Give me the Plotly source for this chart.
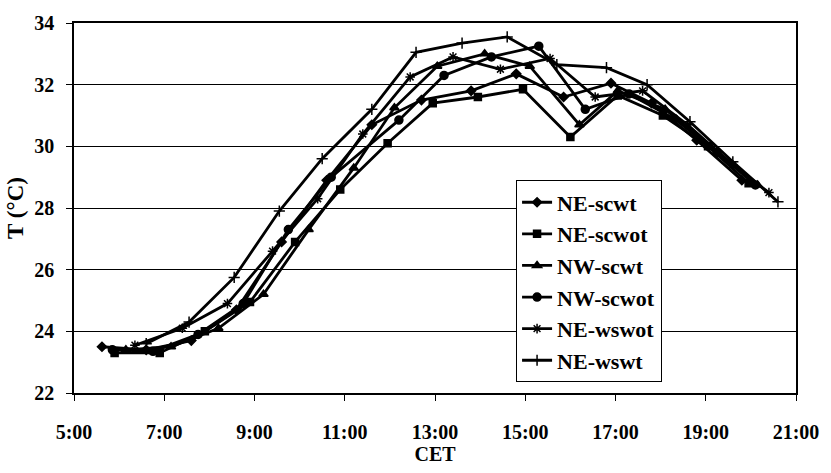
import plotly.graph_objects as go

# Times in decimal hours (CET), temperatures in °C
ne_scwt_t = [5.62, 6.6, 7.6, 8.6, 9.6, 10.6, 11.6, 12.7, 13.8, 14.8, 15.85, 16.9, 17.8, 18.8, 19.8]
ne_scwt_v = [23.5, 23.4, 23.7, 24.7, 26.9, 28.9, 30.7, 31.5, 31.8, 32.35, 31.6, 32.05, 31.4, 30.2, 28.9]

ne_scwot_t = [5.9, 6.9, 7.9, 8.9, 9.9, 10.9, 11.95, 12.95, 13.95, 14.95, 16.0, 17.05, 18.05, 19.05, 19.95]
ne_scwot_v = [23.3, 23.3, 24.0, 24.95, 26.9, 28.6, 30.1, 31.4, 31.6, 31.85, 30.3, 31.65, 31.0, 30.0, 28.8]

nw_scwt_t = [6.15, 7.15, 8.2, 9.2, 10.2, 11.2, 12.1, 13.05, 14.1, 15.1, 16.2, 17.05, 18.1, 19.1, 20.15]
nw_scwt_v = [23.4, 23.5, 24.1, 25.2, 27.3, 29.3, 31.25, 32.6, 33.0, 32.6, 30.7, 31.8, 31.2, 30.0, 28.75]

nw_scwot_t = [5.85, 6.75, 7.75, 8.75, 9.75, 10.7, 12.2, 13.2, 14.25, 15.3, 16.33, 17.3, 18.3, 19.25, 20.1]
nw_scwot_v = [23.4, 23.35, 23.9, 24.9, 27.3, 29.0, 30.85, 32.3, 32.9, 33.25, 31.2, 31.7, 30.9, 29.8, 28.75]

ne_wswot_t = [6.35, 7.4, 8.4, 9.4, 10.4, 11.4, 12.45, 13.4, 14.45, 15.55, 16.55, 17.6, 18.6, 19.6, 20.4]
ne_wswot_v = [23.55, 24.1, 24.9, 26.6, 28.3, 30.4, 32.25, 32.9, 32.5, 32.85, 31.6, 31.8, 30.7, 29.4, 28.5]

ne_wswt_t = [6.6, 7.55, 8.55, 9.55, 10.5, 11.6, 12.58, 13.6, 14.6, 15.7, 16.8, 17.7, 18.65, 19.6, 20.6]
ne_wswt_v = [23.6, 24.3, 25.75, 27.9, 29.6, 31.2, 33.05, 33.35, 33.55, 32.65, 32.55, 32.0, 30.8, 29.5, 28.2]

series_names = ["NE-scwt", "NE-scwot", "NW-scwt", "NW-scwot", "NE-wswot", "NE-wswt"]
tick_vals = [5, 7, 9, 11, 13, 15, 17, 19, 21]
tick_text = ["5:00", "7:00", "9:00", "11:00", "13:00", "15:00", "17:00", "19:00", "21:00"]

data = [
    (ne_scwt_t, ne_scwt_v, "diamond", 7),
    (ne_scwot_t, ne_scwot_v, "square", 7),
    (nw_scwt_t, nw_scwt_v, "triangle-up", 8),
    (nw_scwot_t, nw_scwot_v, "circle", 8),
    (ne_wswot_t, ne_wswot_v, "asterisk-open", 8),
    (ne_wswt_t, ne_wswt_v, "cross-thin-open", 8),
]

fig = go.Figure()
for name, (t, v, sym, sz) in zip(series_names, data):
    fig.add_trace(go.Scatter(
        x=t, y=v, name=name, mode="lines+markers",
        line=dict(color="black", width=2.8),
        marker=dict(symbol=sym, size=sz, color="black",
                    line=dict(color="black", width=1.5)),
    ))

font_family = "Liberation Serif"
bold = dict(family=font_family, size=20, color="black", weight="bold")
fig.update_layout(
    width=831, height=473,
    margin=dict(l=74, r=35, t=13, b=79),
    paper_bgcolor="white", plot_bgcolor="white",
    font=dict(family=font_family, color="black", size=20, weight="bold"),
    showlegend=True,
    legend=dict(
        x=0.612, y=0.575, xanchor="left", yanchor="top",
        bgcolor="white", bordercolor="black", borderwidth=1.2,
        font=dict(family=font_family, size=22, color="black", weight="bold"),
        tracegroupgap=0, itemwidth=30,
    ),
    xaxis=dict(
        range=[5, 21], tickvals=tick_vals, ticktext=tick_text,
        showgrid=False, zeroline=False,
        showline=True, linecolor="black", linewidth=1.5, mirror=True,
        ticks="outside", ticklen=6, tickcolor="black",
        ticklabelstandoff=14,
        tickfont=bold,
        title=dict(text="<b>CET</b>", standoff=4, font=bold),
    ),
    yaxis=dict(
        range=[22, 34], dtick=2, tick0=22,
        showgrid=True, gridcolor="black", gridwidth=1,
        zeroline=False,
        showline=True, linecolor="black", linewidth=1.5, mirror=True,
        ticks="outside", ticklen=6, tickcolor="black",
        ticklabelstandoff=8,
        tickfont=bold,
        title=dict(text="<b>T (°C)</b>", standoff=4,
                   font=dict(family=font_family, size=23, color="black", weight="bold")),
    ),
)

fig.write_html("out.html")
